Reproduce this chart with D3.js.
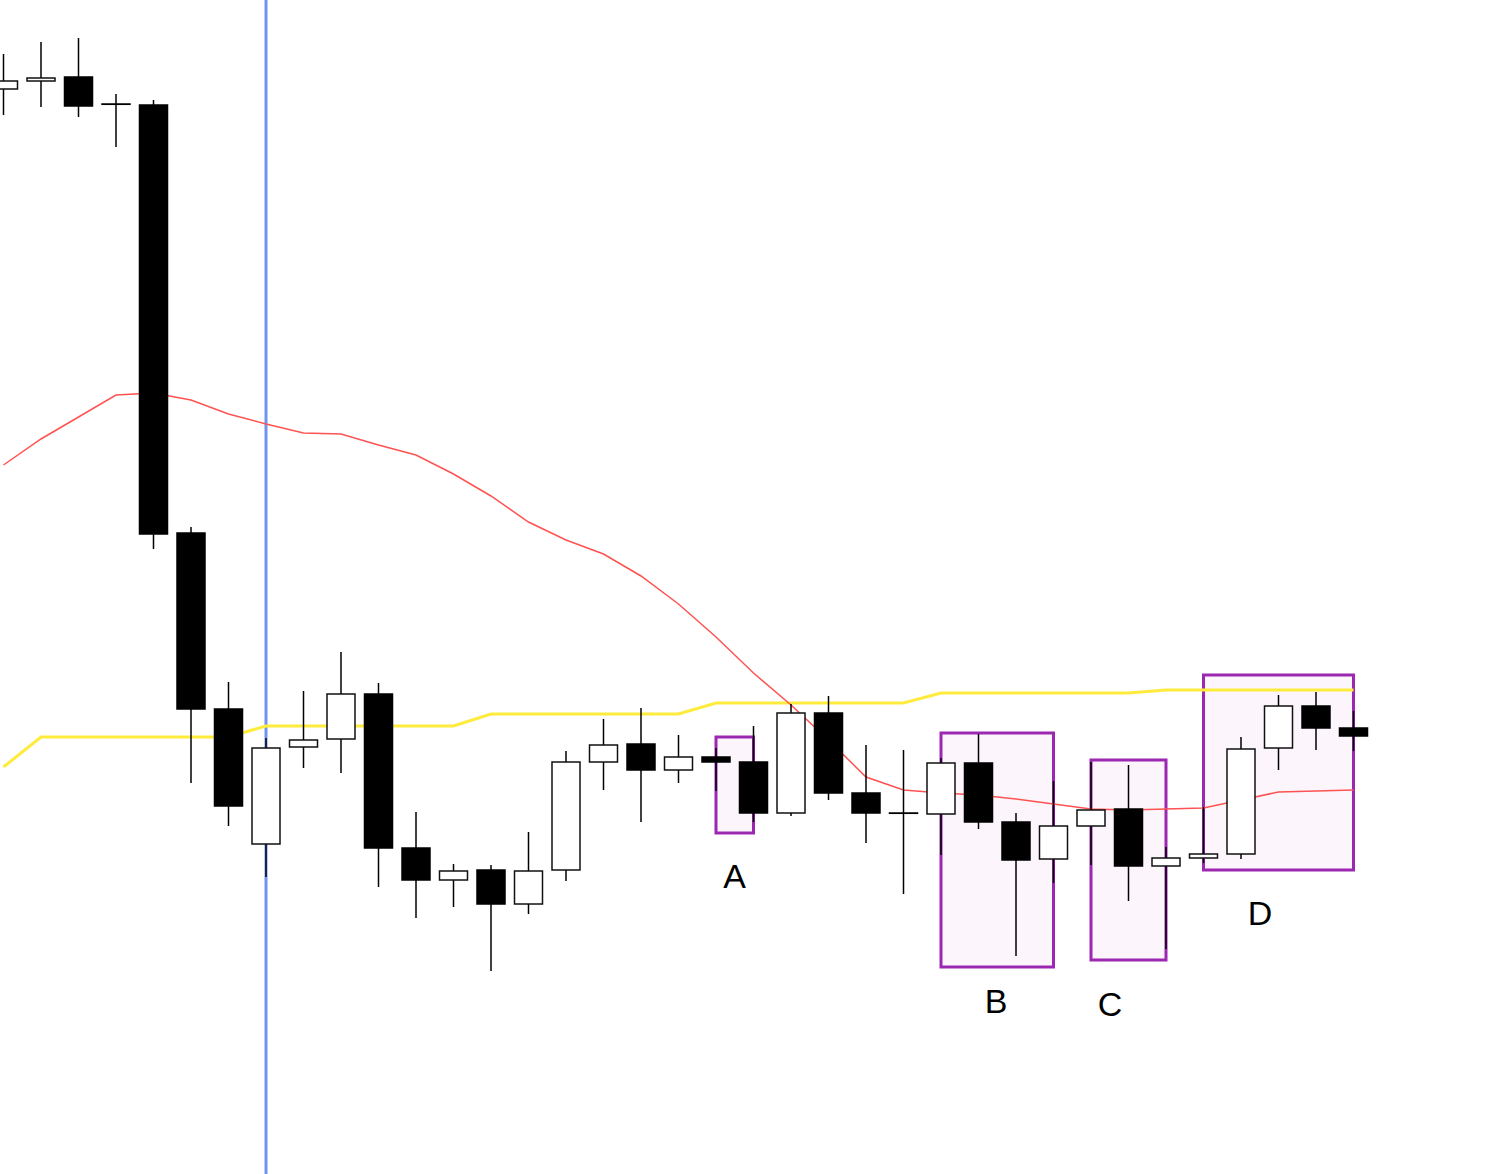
<!DOCTYPE html>
<html>
<head>
<meta charset="utf-8">
<script src="https://cdn.jsdelivr.net/npm/d3@7"></script>
<style>
html,body{margin:0;padding:0;background:#fff;}
svg{display:block;}
</style>
</head>
<body>
<svg id="chart" width="1500" height="1174"></svg>
<script>
// ---- data ----
const opens  = [149.11,149.19,149.23,148.96,148.95,144.67,142.91,141.56,142.53,142.61,143.06,141.52,141.20,141.30,140.96,141.30,142.38,142.56,142.30,142.43,142.38,141.87,142.87,142.07,141.87,141.86,142.37,141.78,141.41,141.74,141.91,141.34,141.42,141.46,142.52,142.94,142.72];
const highs  = [149.46,149.58,149.62,149.06,149.00,144.73,143.18,142.62,143.09,143.48,143.17,141.88,141.36,141.35,141.68,142.49,142.81,142.92,142.65,142.52,142.74,142.96,143.04,142.55,142.50,142.42,142.66,141.87,142.19,142.38,142.35,141.53,141.93,142.63,143.05,143.08,142.89];
const lows   = [148.85,148.93,148.83,148.53,144.51,142.17,141.74,141.23,142.32,142.27,141.13,140.82,140.93,140.29,140.86,141.19,142.10,141.78,142.17,142.09,141.78,141.84,142.00,141.57,141.06,141.45,141.71,140.44,141.17,141.35,140.99,140.51,141.37,141.41,142.30,142.50,142.49];
const closes = [149.19,149.22,148.94,148.96,144.66,142.91,141.94,142.52,142.60,143.06,141.52,141.20,141.29,140.96,141.29,142.38,142.55,142.30,142.43,142.38,141.87,142.87,142.07,141.87,141.87,142.37,141.78,141.40,141.74,141.90,141.34,141.42,141.46,142.51,142.94,142.72,142.64];
const redMA    = [145.35,145.61,145.83,146.05,146.07,146.00,145.86,145.76,145.67,145.66,145.55,145.45,145.26,145.04,144.78,144.60,144.46,144.24,143.96,143.63,143.27,142.95,142.60,142.23,142.10,142.07,142.05,142.01,141.96,141.91,141.90,141.91,141.92,142.00,142.08,142.09,142.10];
const yellowLine = [142.33,142.63,142.63,142.63,142.63,142.63,142.63,142.74,142.74,142.74,142.74,142.74,142.74,142.86,142.86,142.86,142.86,142.86,142.86,142.97,142.97,142.97,142.97,142.97,142.97,143.07,143.07,143.07,143.07,143.07,143.07,143.10,143.10,143.10,143.10,143.10,143.10];
const markerIndex = 7;
// boxes
const boxStart = [19, 25, 29, 32];
const boxEnd   = [20, 28, 31, 36];
const boxTop   = [142.63, 142.67, 142.40, 143.25];
const boxBottom= [141.67, 140.33, 140.40, 141.30];
const boxLabels = ["A", "B", "C", "D"];
const labelX = [734.5, 996, 1110, 1260];
const labelPrice = [141.12, 139.87, 139.84, 140.75];

// ---- scales ----
const svg = d3.select("#chart");
const n = opens.length;
const x = d3.scaleLinear().domain([0, n - 1]).range([3.5, 1353.5]);
const y = d3.scaleLinear().domain([150, 138.26]).range([0, 1174]);
const bodyW = 28;

// boxes (behind)
const gBox = svg.append("g");
boxStart.forEach((s, i) => {
  gBox.append("rect")
    .attr("x", x(s)).attr("y", y(boxTop[i]))
    .attr("width", x(boxEnd[i]) - x(s))
    .attr("height", y(boxBottom[i]) - y(boxTop[i]))
    .attr("fill", "#fcf6fc")
    .attr("stroke", "#9c27b0").attr("stroke-width", 3);
});

// blue vertical marker
svg.append("line")
  .attr("x1", x(markerIndex)).attr("x2", x(markerIndex))
  .attr("y1", 0).attr("y2", 1174)
  .attr("stroke", "#6f93ef").attr("stroke-width", 3);

// yellow line
svg.append("path")
  .datum(yellowLine)
  .attr("fill", "none").attr("stroke", "#ffeb3b").attr("stroke-width", 3)
  .attr("d", d3.line().x((d, i) => x(i)).y(d => y(d)));

// red line
svg.append("path")
  .datum(redMA)
  .attr("fill", "none").attr("stroke", "#ff5252").attr("stroke-width", 1.5)
  .attr("d", d3.line().x((d, i) => x(i)).y(d => y(d)));

// candles
const gC = svg.append("g");
const idx = d3.range(n);
gC.selectAll("line.wick").data(idx).join("line")
  .attr("class", "wick")
  .attr("x1", i => x(i)).attr("x2", i => x(i))
  .attr("y1", i => y(highs[i])).attr("y2", i => y(lows[i]))
  .attr("stroke", "#000").attr("stroke-width", 1.5);
gC.selectAll("rect.body").data(idx).join("rect")
  .attr("class", "body")
  .attr("x", i => x(i) - bodyW / 2)
  .attr("width", bodyW)
  .attr("y", i => y(Math.max(opens[i], closes[i])))
  .attr("height", i => Math.max(0.3, Math.abs(y(opens[i]) - y(closes[i]))))
  .attr("fill", i => closes[i] > opens[i] ? "#fff" : "#000")
  .attr("stroke", i => closes[i] > opens[i] ? "#111" : "#000")
  .attr("stroke-width", 1.5);

// labels
boxLabels.forEach((t, i) => {
  svg.append("text")
    .attr("x", labelX[i]).attr("y", y(labelPrice[i]))
    .attr("text-anchor", "middle")
    .attr("font-family", "'Liberation Sans', Arial, Helvetica, sans-serif")
    .attr("font-size", 34)
    .attr("fill", "#000")
    .text(t);
});
</script>
</body>
</html>
